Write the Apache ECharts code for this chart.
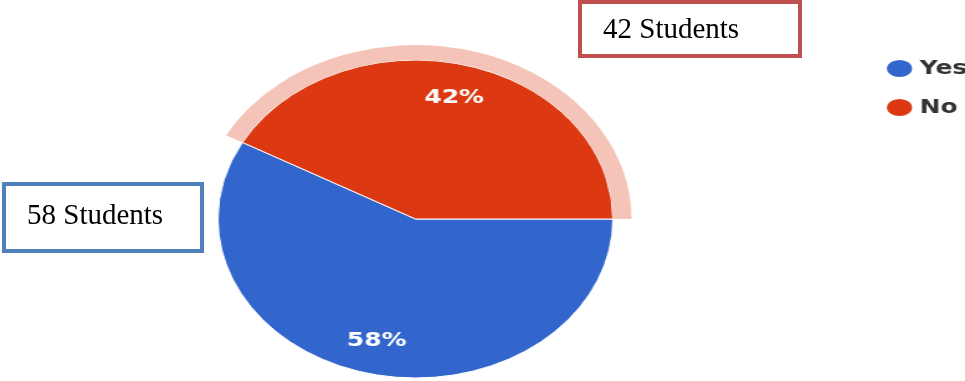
<!DOCTYPE html>
<html>
<head>
<meta charset="utf-8">
<script src="https://cdn.jsdelivr.net/npm/echarts@6/dist/echarts.min.js"></script>
<style>
  html, body { margin: 0; padding: 0; background: #fff; }
  #wrap { position: relative; width: 965px; height: 381px; overflow: hidden; }
  /* the pie is drawn as an ellipse: a circular pie stretched horizontally */
  #pie { position: absolute; left: 0; top: 0; width: 777px; height: 381px;
         transform: scaleX(1.242); transform-origin: 0 0; }
  #notes { position: absolute; left: 0; top: 0; width: 965px; height: 381px; }
</style>
</head>
<body>
<div id="wrap">
  <div id="pie"></div>
  <div id="notes"></div>
</div>
<script>
// Survey answers
const categories = ['Yes', 'No'];
const students = [58, 42];
const sliceColors = ['#3366cc', '#dc3912'];
const noteColors = ['#4f81bd', '#c0504d'];

const pieChart = echarts.init(document.getElementById('pie'), null, { renderer: 'canvas' });
const center = [334.5, 219];
const R = 159;

const sliceData = categories.map((name, i) => ({
  name: name,
  value: students[i],
  itemStyle: { color: sliceColors[i] }
}));

// pale highlight ring around the "No" slice
const ringData = categories.map((name, i) => ({
  value: students[i],
  itemStyle: { color: name === 'No' ? '#f5c4b8' : 'rgba(0,0,0,0)' }
}));

pieChart.setOption({
  animation: false,
  legend: {
    orient: 'vertical',
    left: 712,
    top: 58,
    padding: 0,
    itemGap: 18,
    itemWidth: 22.5,
    itemHeight: 19,
    itemTextGap: 5,
    symbolKeepAspect: false,
    // oval marker filling the whole item box
    icon: 'path://M0,9.5A11.25,9.5,0,1,1,22.5,9.5A11.25,9.5,0,1,1,0,9.5Z',
    data: categories,
    selectedMode: false,
    textStyle: { fontFamily: 'DejaVu Sans', fontSize: 20, fontWeight: 'bold', color: '#333333', lineHeight: 19 }
  },
  series: [
    {
      type: 'pie',
      center: center,
      radius: [0, R],
      startAngle: 0,
      clockwise: true,
      silent: true,
      label: { show: false },
      labelLine: { show: false },
      itemStyle: { borderColor: '#ffffff', borderWidth: 1 },
      data: sliceData
    },
    {
      type: 'pie',
      center: center,
      radius: [R, R + 15],
      startAngle: 0,
      clockwise: true,
      silent: true,
      label: { show: false },
      labelLine: { show: false },
      data: ringData
    },
    {
      // transparent copy carrying the percentage labels
      type: 'pie',
      center: center,
      radius: [86, R],
      startAngle: 0,
      clockwise: true,
      silent: true,
      itemStyle: { color: 'rgba(0,0,0,0)', borderWidth: 0 },
      label: {
        show: true,
        position: 'inside',
        formatter: '{d}%',
        color: '#ffffff',
        fontFamily: 'DejaVu Sans',
        fontWeight: 'bold',
        fontSize: 20
      },
      labelLine: { show: false },
      data: categories.map((name, i) => ({ name: name, value: students[i] }))
    }
  ]
});

// callout boxes with the student counts
const notesChart = echarts.init(document.getElementById('notes'), null, { renderer: 'canvas' });
const boxes = [
  { i: 0, x: 4, y: 184, w: 198, h: 67, tx: 27, ty: 216 },
  { i: 1, x: 580, y: 2, w: 220, h: 54, tx: 603, ty: 30 }
];
const elements = [];
boxes.forEach(b => {
  elements.push({
    type: 'rect',
    shape: { x: b.x, y: b.y, width: b.w, height: b.h },
    style: { fill: '#ffffff', stroke: noteColors[b.i], lineWidth: 4 }
  });
  elements.push({
    type: 'text',
    x: b.tx,
    y: b.ty,
    style: {
      text: students[b.i] + ' Students',
      fill: '#000000',
      font: '29px "Liberation Serif", "Times New Roman", serif',
      verticalAlign: 'middle',
      align: 'left'
    }
  });
});
notesChart.setOption({ animation: false, graphic: { elements: elements } });
</script>
</body>
</html>
